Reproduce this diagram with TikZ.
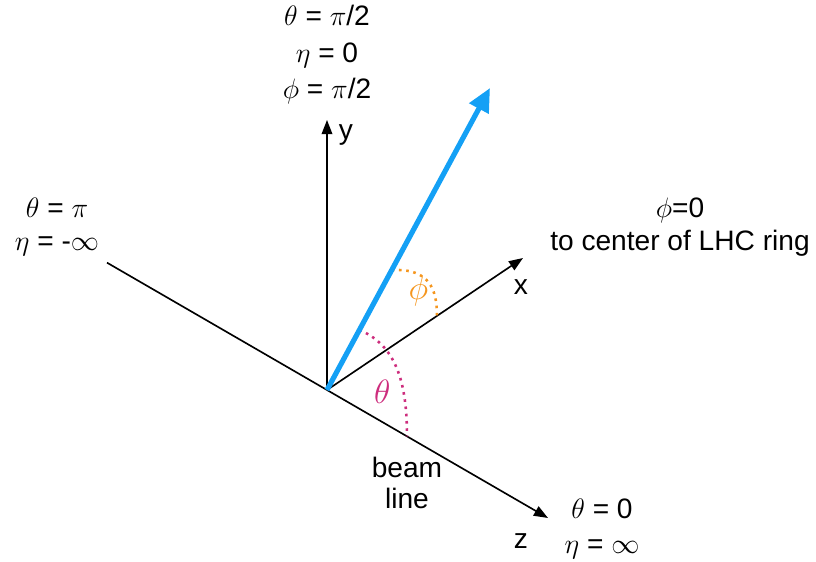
\documentclass[tikz,border=0pt]{standalone}
\usepackage{fontspec}
\setmainfont{Liberation Sans}
\usepackage{amsmath}
\usetikzlibrary{arrows.meta, positioning, calc}
\definecolor{vecblue}{RGB}{20,160,245}
\definecolor{phiorange}{RGB}{245,150,30}
\definecolor{thetapink}{RGB}{205,45,125}

\begin{document}
\begin{tikzpicture}[font=\fontsize{12}{15}\selectfont,
    axis/.style={line width=0.7pt, -{Triangle[length=6pt, width=4.5pt]}},
    anglearc/.style={line width=1.1pt, dotted},
    lbl/.style={align=center, inner sep=0pt}]
    \useasboundingbox (-4.905,-2.58) rectangle (7.335,5.85);

    \coordinate (O) at (0,0);
    \coordinate (ytip) at (0,4.05);
    \coordinate (xtip) at (2.94,1.98);
    \coordinate (ztip) at (3.315,-1.92);
    \coordinate (zback) at (-3.3,1.91);
    \coordinate (vtip) at (2.445,4.53);

    % axes and beam line
    \draw[line width=0.7pt] (zback) -- (O);
    \draw[axis] (O) -- (ztip);
    \draw[axis] (O) -- (xtip);
    \draw[axis] (O) -- (ytip);

    % angles
    \draw[anglearc, phiorange] ($(O)!0.397!(vtip)$) .. controls (1.545,1.83) and (1.65,1.5) .. ($(O)!0.561!(xtip)$);
    \draw[anglearc, thetapink] ($(O)!0.199!(vtip)$) .. controls (1.02,0.675) and (1.2,0.15) .. ($(O)!0.362!(ztip)$);

    % momentum vector
    \draw[vecblue, line width=2.2pt, -{Triangle[length=10pt, width=9pt]}] (O) -- (vtip);

    \node (ylbl) at (0.285,3.825) {y};
    \node (xlbl) at (2.91,1.545) {x};
    \node (zlbl) at (2.91,-2.265) {z};
    \node[phiorange, font=\fontsize{15}{18}\selectfont] (philbl) at (1.37,1.49) {$\phi$};
    \node[thetapink, font=\fontsize{15}{18}\selectfont] (thetalbl) at (0.83,-0.03) {$\theta$};
    \node[lbl, font=\fontsize{12}{13.6}\selectfont] (beam) at (1.2,-1.395) {beam\\line};

    \node[lbl, font=\fontsize{12}{15.6}\selectfont] (top) at (0,5.03) {$\theta$ = $\pi$/2\\$\eta$ = 0\\$\phi$ = $\pi$/2};
    \node[lbl, font=\fontsize{12}{14}\selectfont] (left) at (-4.05,2.44) {$\theta$ = $\pi$\\$\eta$ = -$\infty$};
    \node[lbl, font=\fontsize{12}{14}\selectfont] (right) at (5.295,2.44) {$\phi$=0\\to center of LHC ring};
    \node[lbl, font=\fontsize{12}{15}\selectfont] (fwd) at (4.125,-2.085) {$\theta$ = 0\\$\eta$ = $\infty$};
\end{tikzpicture}
\end{document}
